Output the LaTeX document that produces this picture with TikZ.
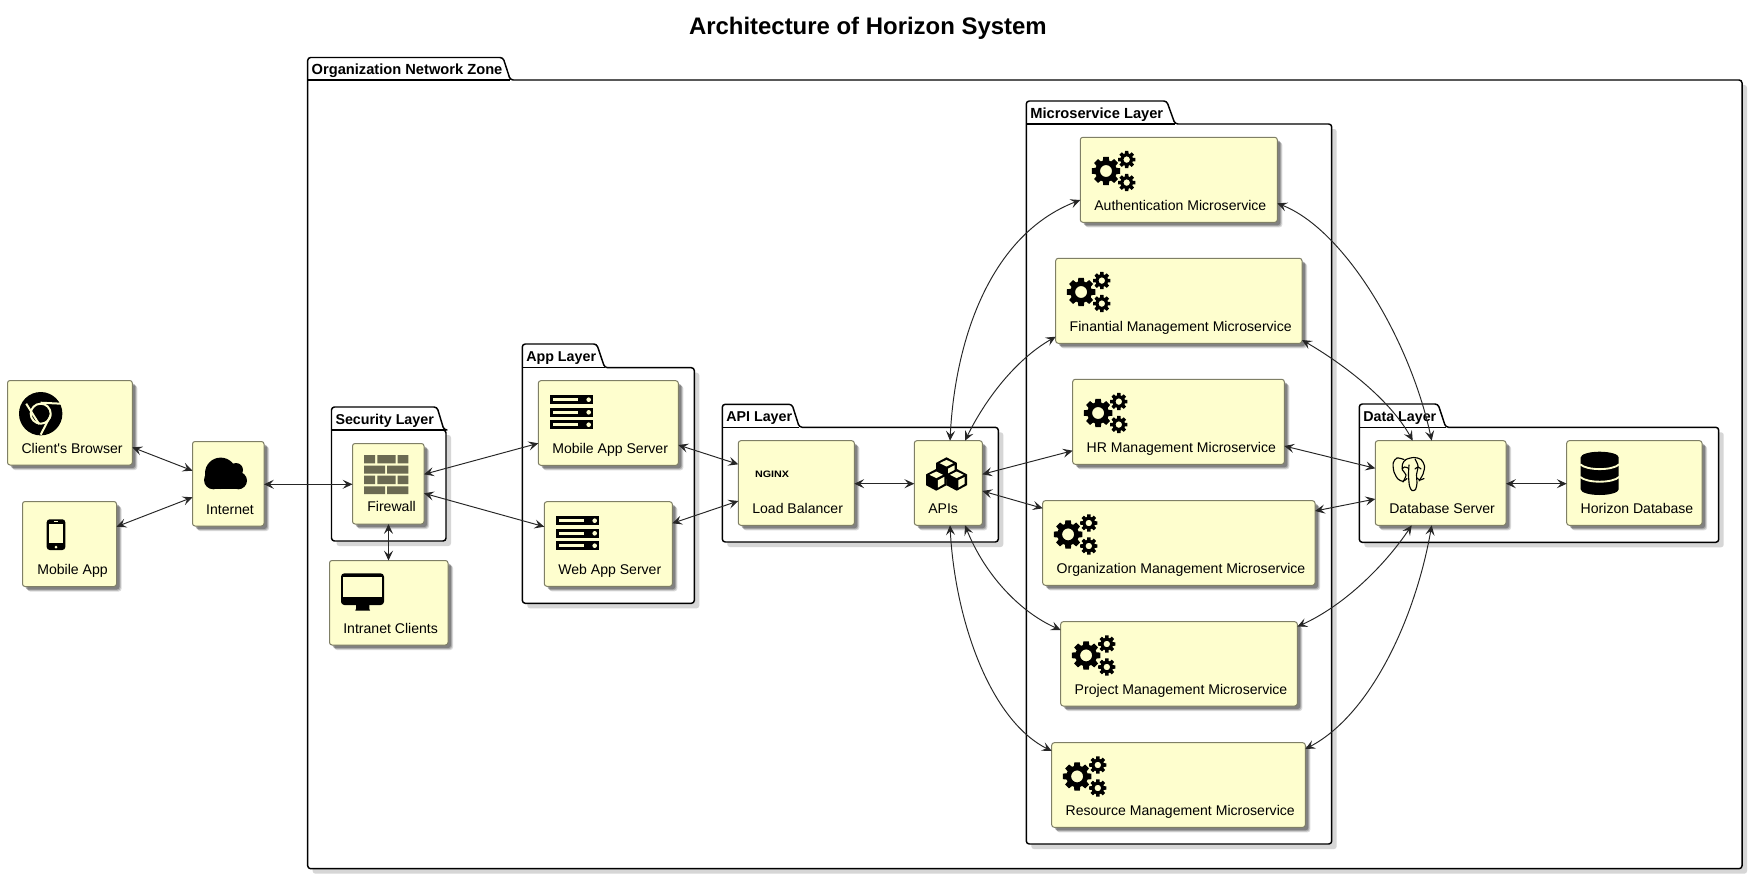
\documentclass[tikz,border=0pt]{standalone}
\usepackage{fontspec}
\setmainfont{Liberation Sans}
\newfontfamily\rawfont{Liberation Sans}
\usetikzlibrary{arrows.meta,calc}
\definecolor{boxfill}{HTML}{FEFECE}
\definecolor{boxline}{HTML}{7F7F66}
\definecolor{wallc}{HTML}{6B6A52}
\definecolor{wirec}{HTML}{262626}
\tikzset{
  px/.style={x=0.75pt,y=-0.75pt},
  svc/.style={draw=boxline,fill=boxfill,line width=0.75pt,rounded corners=1.9pt,inner sep=0pt,outer sep=0pt},
  lbl/.style={font=\fontsize{10.55pt}{12pt}\selectfont,inner sep=0pt,outer sep=0pt,anchor=base west,text=black},
  pkgt/.style={font=\bfseries\fontsize{10.7pt}{12pt}\selectfont,inner sep=0pt,outer sep=0pt,anchor=base west,text=black},
  pkgl/.style={draw=black,line width=1.1pt,fill=white,line join=round},
  link/.style={draw=wirec,line width=0.72pt,{Stealth[length=7.4pt,width=6.8pt,inset=3pt]}-{Stealth[length=7.4pt,width=6.8pt,inset=3pt]}},
  gears/.pic={
    \gearshape{13.7}{19.7}{14.4}{10.8}{6}
    \gearshape{34.4}{8.3}{8.8}{6.3}{3.3}
    \gearshape{34.4}{31.3}{8.8}{6.3}{3.3}
  },
  chromeic/.pic={
    \fill[black] (21.7,21.7) circle (21.7);
    \draw[boxfill,line width=1.5pt] (21.7,21.7) circle (10);
    \draw[boxfill,line width=1.5pt] (21.7,10.7) -- (42.2,11.7);
    \draw[boxfill,line width=1.5pt] (7.2,11.7) -- (20.2,32.2);
    \draw[boxfill,line width=1.5pt] (31.7,23.2) -- (21.7,42.7);
  },
  phoneic/.pic={
    \fill[black,rounded corners=2.2pt] (0,0) rectangle (18.6,30.7);
    \fill[boxfill] (2.4,4.7) rectangle (16.6,24);
    \fill[boxfill] (9.3,27.7) circle (1.5);
    \draw[boxfill,line width=0.6pt] (7.2,2.4) -- (11.4,2.4);
  },
  monitoric/.pic={
    \fill[black,rounded corners=2.5pt] (0,0) rectangle (43,31.7);
    \fill[boxfill] (2.4,3.4) rectangle (40.6,23.4);
    \fill[black] (15,31) -- (28.3,31) -- (28.3,35.5) -- (29,37.2) -- (14.3,37.2) -- (15,35.5) -- cycle;
  },
  cloudic/.pic={
    \fill[black] (16.7,16) circle (15.7);
    \fill[black] (9.3,22.7) circle (9.3);
    \fill[black] (32,12.7) circle (7);
    \fill[black] (34.3,23.3) circle (8.7);
    \fill[black] (9.3,24) rectangle (34.3,32);
  },
  wallic/.pic={
    \fill[wallc]
      (0,0) rectangle (11,8.3) (13.3,0) rectangle (31.7,8.3) (33.7,0) rectangle (44.3,8.3)
      (0,10.7) rectangle (21,18.7) (23,10.7) rectangle (44.3,18.7)
      (0,20.7) rectangle (11,29) (13.3,20.7) rectangle (31.7,29) (33.7,20.7) rectangle (44.3,29)
      (0,31.3) rectangle (21,39) (23,31.3) rectangle (44.3,39);
  },
  serveric/.pic={
    \foreach \r in {0,12.6,25}{
      \fill[black] (0,\r) rectangle (43.3,\r+9.3);
      \fill[boxfill] (2.7,\r+3.2) rectangle (28.3,\r+6.2);
      \fill[boxfill] (38.7,\r+4.7) circle (2.3);
    }
  },
  cubesic/.pic={
    \cubeshape{20.5}{10.9}
    \cubeshape{10.3}{22.5}
    \cubeshape{30.7}{22.5}
  },
  elephantic/.pic={
    \draw[black,line width=0.85pt,line cap=round] plot[smooth] coordinates {(14,14.5) (7,13) (3.2,18) (4,27) (8,34) (13,36.3) (17,33.5)};
    \draw[black,line width=0.85pt,line cap=round] plot[smooth] coordinates {(13,37) (16,30) (12.5,25) (12.5,19) (16,14.5) (24,12.5) (31,14.5) (34.5,21) (33,29) (29,36)};
    \draw[black,line width=0.85pt,line cap=round] plot[smooth] coordinates {(19,20) (18.5,30) (19.5,41) (22,45.5) (25.5,44.5) (27,38) (26.5,30) (28,21) (25,14)};
    \draw[black,line width=0.85pt,line cap=round] plot[smooth] coordinates {(27,33) (30,35) (34,33.5)};
    \draw[black,line width=0.85pt,line cap=round] plot[smooth] coordinates {(12,24) (14.5,22) (18,23)};
    \draw[black,line width=0.85pt,line cap=round] plot[smooth] coordinates {(25,24) (28,22) (31,24)};
  },
  dbic/.pic={
    \fill[black] (0,5.7) arc[start angle=180,end angle=0,x radius=19,y radius=-5.7]
      -- (38,37.6) arc[start angle=0,end angle=-180,x radius=19,y radius=-5.7] -- cycle;
    \draw[boxfill,line width=1.4pt] (-0.5,12.6) .. controls (6,19) and (32,19) .. (38.5,12.6);
    \draw[boxfill,line width=1.4pt] (-0.5,25.2) .. controls (6,31.6) and (32,31.6) .. (38.5,25.2);
  },
}
\newcommand{\gearshape}[5]{%
  \begin{scope}[shift={(#1,#2)}]
    \fill[black,even odd rule] (-11:#3)
      \foreach \a in {0,45,...,315}{ -- (\a-11:#3) -- (\a+11:#3) -- (\a+17:#4) -- (\a+28:#4) } -- cycle
      (0,0) circle (#5);
  \end{scope}}
\newcommand{\cubeshape}[2]{%
  \begin{scope}[shift={(#1,#2)}]
    \fill[black,line join=round] (0,-10.9) -- (10.3,-5.4) -- (10.3,5.4) -- (0,10.9) -- (-10.3,5.4) -- (-10.3,-5.4) -- cycle;
    \fill[boxfill] (0,-8.3) -- (6.8,-5) -- (0,-1.7) -- (-6.8,-5) -- cycle;
    \fill[boxfill] (1.6,0.4) -- (8,-2.9) -- (8,4) -- (1.6,7.8) -- cycle;
  \end{scope}}
% service box: name, x1, y1, x2, y2
\newcommand{\svcbox}[5]{%
  \pgfmathsetmacro{\bw}{#4-#2}\pgfmathsetmacro{\bh}{#5-#3}
  \pgfmathsetmacro{\bcx}{(#2+#4)/2}\pgfmathsetmacro{\bcy}{(#3+#5)/2}
  \foreach \d/\o in {5/.14,4/.20,3/.26}{
    \fill[black,opacity=\o,rounded corners=2pt] (#2+\d,#3+\d) rectangle (#4+\d,#5+\d);
  }
  \node[svc,minimum width=\bw*0.75pt,minimum height=\bh*0.75pt] (#1) at (\bcx,\bcy) {};}
% package: name, x1, tabtop, tabright-top, tabright-bottom, bodytop, x2, bottom, title
\newcommand{\pkg}[9]{%
  \fill[black!16,rounded corners=2pt] (#2+5,#6+5) rectangle (#7+5,#8+5);
  \draw[pkgl,rounded corners=2.2pt] (#2,#6) -- (#2,#3) -- (#4,#3) -- (#5,#6) -- (#7,#6) -- (#7,#8) -- (#2,#8) -- cycle;
  \draw[draw=black,line width=1.1pt] (#2,#6) -- (#5,#6);
  \node[pkgt] (#1) at (#2+4,#6-5.8) {#9};}
\newcommand{\widetitle}{\fontsize{11pt}{12pt}\selectfont}
\begin{document}
\begin{tikzpicture}[px]
\useasboundingbox (0,0) rectangle (1748,874);
\fill[white] (0,0) rectangle (1748,874);
\node[inner sep=0pt,outer sep=0pt,anchor=base west,font=\bfseries\fontsize{17.95pt}{20pt}\selectfont] (title) at (689,35) {Architecture of Horizon System};
% packages
\pkg{pOrg}{307.7}{57.5}{503}{510.3}{80}{1742}{868.7}{\widetitle Organization Network Zone}
\pkg{pMic}{1026.3}{101}{1166.7}{1175}{124}{1331.7}{844}{\widetitle Microservice Layer}
\pkg{pSec}{331.5}{407}{437}{444}{430}{446}{541}{Security Layer}
\pkg{pApp}{522.3}{344}{596.7}{604.7}{367.7}{694.3}{603.3}{App Layer}
\pkg{pApi}{722.3}{404.3}{792}{799.3}{427.3}{998.3}{542}{API Layer}
\pkg{pDat}{1359.3}{404}{1438}{1445.7}{427.3}{1718.7}{542.3}{Data Layer}
% boxes
\svcbox{browser}{7.5}{380.5}{132.3}{465}
\svcbox{mobile}{22.5}{501.5}{116.5}{586.5}
\svcbox{internet}{192.5}{441.5}{264}{526}
\svcbox{firewall}{352.5}{443.5}{424}{524}
\svcbox{intranet}{329.5}{560.5}{448}{645}
\svcbox{msrv}{538.3}{380.7}{678.3}{465.3}
\svcbox{wsrv}{544.3}{501.7}{672.3}{586.3}
\svcbox{lb}{738.3}{440.7}{854.3}{525.3}
\svcbox{apis}{914.3}{440.7}{982.3}{525.3}
\svcbox{auth}{1080.3}{137.3}{1277.3}{222.3}
\svcbox{fin}{1055.7}{258.3}{1302}{343.3}
\svcbox{hr}{1072.7}{379.3}{1284.3}{464.3}
\svcbox{org}{1042.7}{500.7}{1315}{585.3}
\svcbox{proj}{1060.7}{621.7}{1297.3}{706}
\svcbox{res}{1051.7}{742.7}{1305.3}{827.3}
\svcbox{dbs}{1375.3}{440.7}{1506}{525.3}
\svcbox{hdb}{1566.7}{440.7}{1702}{525.3}
% labels
\node[lbl] (tBrowser) at ($(browser.south west)+(14,-12)$) {Client{\rawfont\fontsize{10.55pt}{12pt}\selectfont '}s Browser};
\node[lbl] (tMobile) at ($(mobile.south west)+(14.8,-12)$) {Mobile App};
\node[lbl] (tInternet) at ($(internet.south west)+(13.7,-12)$) {Internet};
\node[lbl] (tFirewall) at ($(firewall.south west)+(14.8,-12.3)$) {Firewall};
\node[lbl] (tIntranet) at ($(intranet.south west)+(13.8,-12)$) {Intranet Clients};
\node[lbl] (tMsrv) at ($(msrv.south west)+(14,-12)$) {Mobile App Server};
\node[lbl] (tWsrv) at ($(wsrv.south west)+(14,-12)$) {Web App Server};
\node[lbl] (tLb) at ($(lb.south west)+(14,-12)$) {Load Balancer};
\node[lbl] (tApis) at ($(apis.south west)+(14,-12)$) {APIs};
\node[lbl] (tAuth) at ($(auth.south west)+(14,-12)$) {Authentication Microservice};
\node[lbl] (tFin) at ($(fin.south west)+(14,-12)$) {Finantial Management Microservice};
\node[lbl] (tHr) at ($(hr.south west)+(14,-12)$) {HR Management Microservice};
\node[lbl] (tOrg) at ($(org.south west)+(14,-12)$) {Organization Management Microservice};
\node[lbl] (tProj) at ($(proj.south west)+(14,-12)$) {Project Management Microservice};
\node[lbl] (tRes) at ($(res.south west)+(14,-12)$) {Resource Management Microservice};
\node[lbl] (tDbs) at ($(dbs.south west)+(14,-12)$) {Database Server};
\node[lbl] (tHdb) at ($(hdb.south west)+(14,-12)$) {Horizon Database};
% icons
\pic at ($(browser.north west)+(11.5,11.5)$) {chromeic};
\pic at ($(mobile.north west)+(24.2,17.8)$) {phoneic};
\pic at ($(internet.north west)+(11.5,15.8)$) {cloudic};
\pic at ($(firewall.north west)+(11.5,11.5)$) {wallic};
\pic at ($(intranet.north west)+(11.5,12.8)$) {monitoric};
\pic at ($(msrv.north west)+(11.7,14.3)$) {serveric};
\pic at ($(wsrv.north west)+(11.7,14.3)$) {serveric};
\node[inner sep=0pt,outer sep=0pt,anchor=base west,font=\bfseries\fontsize{7pt}{8pt}\selectfont,xscale=1.15] (tNginx) at ($(lb.north west)+(16.7,37)$) {NGINX};
\pic at ($(apis.north west)+(11.7,16.6)$) {cubesic};
\pic at ($(auth.north west)+(12,14)$) {gears};
\pic at ($(fin.north west)+(11.7,14)$) {gears};
\pic at ($(hr.north west)+(11.7,14)$) {gears};
\pic at ($(org.north west)+(11.7,14)$) {gears};
\pic at ($(proj.north west)+(11.7,14)$) {gears};
\pic at ($(res.north west)+(11.7,14)$) {gears};
\pic at ($(dbs.north west)+(14.7,4.3)$) {elephantic};
\pic at ($(hdb.north west)+(14,11)$) {dbic};
% connectors
\draw[link] ($(browser.north west)+(124.8,66.8)$) -- ($(internet.north west)+(0,29.2)$);
\draw[link] ($(mobile.north west)+(94,25.2)$) -- ($(internet.north west)+(0,55.8)$);
\draw[link] ($(internet.north west)+(71.5,42.8)$) -- ($(firewall.north west)+(0,40.8)$);
\draw[link] ($(firewall.north west)+(36,80.5)$) -- ($(intranet.north west)+(59,0)$);
\draw[link] ($(firewall.north west)+(71.5,30.8)$) -- ($(msrv.north west)+(0,62.6)$);
\draw[link] ($(firewall.north west)+(71.5,49.8)$) -- ($(wsrv.north west)+(0,25)$);
\draw[link] ($(msrv.north west)+(140,64.3)$) -- ($(lb.north west)+(0,23.6)$);
\draw[link] ($(wsrv.north west)+(128,21.6)$) -- ($(lb.north west)+(0,60.3)$);
\draw[link] ($(lb.north west)+(116,43)$) -- ($(apis.north west)+(0,43)$);
\draw[link] ($(dbs.north west)+(130.7,43)$) -- ($(hdb.north west)+(0,43)$);
\draw[link] ($(apis.north west)+(35.7,0)$) .. controls (955,340) and (990,235) .. ($(auth.north west)+(0,62.7)$);
\draw[link] ($(apis.north west)+(50.7,0)$) .. controls (985,400) and (1015,360) .. ($(fin.north west)+(0,78.4)$);
\draw[link] ($(apis.north west)+(68,33.6)$) -- ($(hr.north west)+(0,71.4)$);
\draw[link] ($(apis.north west)+(68,50.3)$) -- ($(org.north west)+(0,7.6)$);
\draw[link] ($(apis.north west)+(50.7,84.6)$) .. controls (985,575) and (1020,612) .. ($(proj.north west)+(0,8.3)$);
\draw[link] ($(apis.north west)+(35.7,84.6)$) .. controls (955,620) and (990,720) .. ($(res.north west)+(0,8.3)$);
\draw[link] ($(auth.north west)+(197,66)$) .. controls (1345,230) and (1410,340) .. ($(dbs.north west)+(56.4,0)$);
\draw[link] ($(fin.north west)+(246.3,81.7)$) .. controls (1345,365) and (1390,400) .. ($(dbs.north west)+(37.4,0)$);
\draw[link] ($(hr.north west)+(211.6,66.7)$) -- ($(dbs.north west)+(0,27.6)$);
\draw[link] ($(org.north west)+(272.3,10.3)$) -- ($(dbs.north west)+(0,58.3)$);
\draw[link] ($(proj.north west)+(236.6,5)$) .. controls (1345,605) and (1385,565) .. ($(dbs.north west)+(36.4,84.6)$);
\draw[link] ($(res.north west)+(253.6,6.3)$) .. controls (1370,715) and (1415,620) .. ($(dbs.north west)+(56.4,84.6)$);
\end{tikzpicture}
\end{document}
